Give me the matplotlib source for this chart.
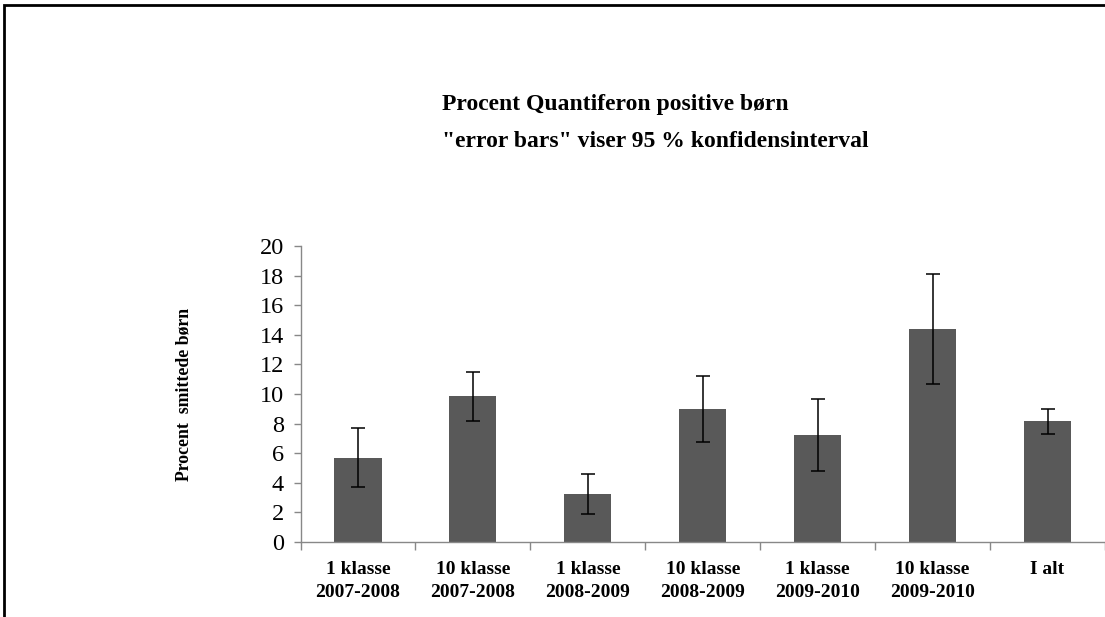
import numpy as np
import matplotlib.pyplot as plt
from matplotlib.patches import Rectangle

categories = ["1 klasse\n2007-2008", "10 klasse\n2007-2008", "1 klasse\n2008-2009",
              "10 klasse\n2008-2009", "1 klasse\n2009-2010", "10 klasse\n2009-2010", "I alt"]
values = [5.64, 9.86, 3.23, 8.98, 7.22, 14.39, 8.17]
ci_low = [3.68, 8.15, 1.85, 6.72, 4.78, 10.65, 7.27]
ci_high = [7.67, 11.5, 4.6, 11.23, 9.65, 18.09, 9.0]

plt.rcParams["font.family"] = ["Liberation Serif", "DejaVu Serif"]

fig = plt.figure(figsize=(11.05, 6.17), dpi=100)
ax = fig.add_axes([0.272, 0.122, 0.728, 0.479])

x = np.arange(len(categories))
vals = np.array(values)
yerr = [vals - np.array(ci_low), np.array(ci_high) - vals]
ax.bar(x, vals, width=0.41, color="#595959", zorder=2)
ax.errorbar(x, vals, yerr=yerr, fmt="none", ecolor="black", elinewidth=1.1,
            capsize=5, capthick=1.1, zorder=3)

ax.set_xlim(-0.5, len(categories) - 0.5)
ax.set_ylim(0, 20)
ax.set_yticks(range(0, 21, 2))
ax.tick_params(axis="y", labelsize=17.5, length=5, color="#888888", width=1, pad=7)
ax.set_xticks(np.arange(-0.5, len(categories), 1.0))
ax.set_xticklabels([])
ax.set_xticks(x, minor=True)
ax.set_xticklabels(categories, minor=True, fontsize=14, fontweight="bold", linespacing=1.45)
ax.tick_params(axis="x", which="major", length=6, color="#888888", width=1, direction="out")
ax.tick_params(axis="x", which="minor", length=0, pad=14)
for s in ["top", "right"]:
    ax.spines[s].set_visible(False)
for s in ["left", "bottom"]:
    ax.spines[s].set_color("#888888")
    ax.spines[s].set_linewidth(1)

ax.set_ylabel("Procent  smittede børn", fontsize=12.8, fontweight="bold", labelpad=48)

fig.text(0.4, 0.83, "Procent Quantiferon positive børn", fontsize=17, fontweight="bold",
         ha="left", va="center")
fig.text(0.4, 0.77, "\"error bars\" viser 95 % konfidensinterval", fontsize=17,
         fontweight="bold", ha="left", va="center")

# outer frame
fig.patches.append(Rectangle((0.004, -0.05), 1.05, 1.042, transform=fig.transFigure,
                             fill=False, edgecolor="black", linewidth=2))

fig.savefig("out.png", dpi=100)
